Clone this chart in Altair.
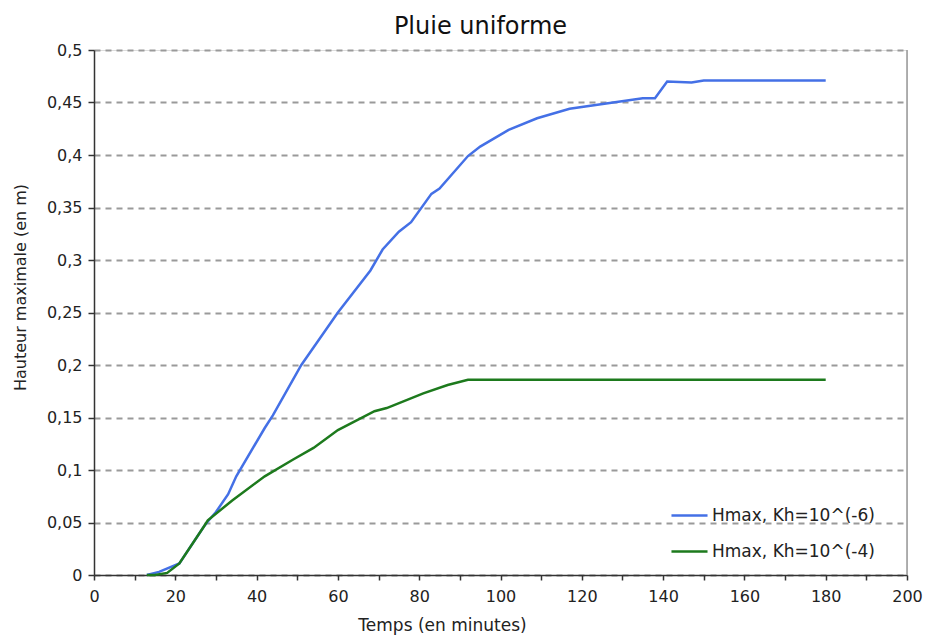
import altair as alt
import pandas as pd

blue_label = "Hmax, Kh=10^(-6)"
green_label = "Hmax, Kh=10^(-4)"

blue_t = [13, 16, 21, 27, 28, 30, 33, 35, 42, 44, 51, 60, 68, 71, 75, 78, 83, 85, 92, 95, 102, 109, 117, 126, 135, 138, 141, 147, 150, 180]
blue_h = [0, 0.003, 0.011, 0.046, 0.051, 0.06, 0.077, 0.094, 0.14, 0.152, 0.2, 0.25, 0.29, 0.31, 0.327, 0.336, 0.363, 0.368, 0.399, 0.408, 0.424, 0.435, 0.444, 0.449, 0.454, 0.454, 0.47, 0.469, 0.471, 0.471]

green_t = [13, 15, 18, 21, 27, 28, 34, 42, 49, 54, 60, 69, 72, 81, 87, 92, 180]
green_h = [0, 0, 0.002, 0.011, 0.046, 0.052, 0.071, 0.094, 0.11, 0.121, 0.138, 0.156, 0.159, 0.173, 0.181, 0.186, 0.186]

x_ticks = list(range(0, 201, 10))
y_ticks = [round(i * 0.05, 2) for i in range(11)]

rows = [{"t": t, "h": h, "serie": blue_label, "o": 0} for t, h in zip(blue_t, blue_h)]
rows += [{"t": t, "h": h, "serie": green_label, "o": 1} for t, h in zip(green_t, green_h)]
df = pd.DataFrame(rows)

FONT = "DejaVu Sans"

x = alt.X("t:Q", scale=alt.Scale(domain=[0, 200], nice=False),
          axis=alt.Axis(title="Temps (en minutes)", values=x_ticks,
                        labelExpr="datum.value % 20 == 0 ? datum.label : ''",
                        labelFlush=False,
                        grid=False, domainColor="#333", domainWidth=1.5,
                        tickColor="#333", tickWidth=1.5, tickSize=5,
                        labelFontSize=16, titleFontSize=17,
                        labelColor="#222", titleColor="#222", titleFontWeight="normal",
                        labelPadding=8, labelFont=FONT, titleFont=FONT,
                        titleX=348, titleY=55, titleAlign="center",
                        titleBaseline="alphabetic"))
y = alt.Y("h:Q", scale=alt.Scale(domain=[0, 0.5], nice=False),
          axis=alt.Axis(title="Hauteur maximale (en m)", values=y_ticks,
                        labelExpr="replace(format(datum.value, '.2~f'), '.', ',')",
                        labelFlush=False,
                        grid=True, gridDash=[6, 5], gridColor="#9a9a9a", gridWidth=2,
                        domainColor="#333", domainWidth=1.5, tickColor="#333",
                        tickWidth=1.5, tickSize=6,
                        labelFontSize=16, titleFontSize=16, labelColor="#222",
                        titleColor="#222", titleFontWeight="normal",
                        labelPadding=6, labelFont=FONT, titleFont=FONT,
                        titleX=-74, titleY=237, titleAlign="center",
                        titleBaseline="middle"))

lines = alt.Chart(df).mark_line(strokeWidth=2.5).encode(
    x=x, y=y,
    color=alt.Color("serie:N",
                    scale=alt.Scale(domain=[blue_label, green_label], range=["#4470e6", "#1d7a1d"]),
                    legend=alt.Legend(title=None, orient="none", legendX=576, legendY=446,
                                      symbolType="stroke", symbolSize=1300, symbolStrokeWidth=2.5,
                                      labelFontSize=17, labelFont=FONT, labelColor="#222",
                                      labelLimit=400, rowPadding=8, labelOffset=3)),
    order="o:Q",
    detail="serie:N",
)

border = alt.Chart(pd.DataFrame({"t": [200]})).mark_rule(color="#999", strokeWidth=1.5).encode(
    x=alt.X("t:Q", scale=alt.Scale(domain=[0, 200], nice=False))
)

chart = alt.layer(border, lines).properties(
    width=813, height=525,
    title=alt.TitleParams("Pluie uniforme", fontSize=24, font=FONT, fontWeight="normal",
                          color="#111", offset=3, dx=-20),
    autosize=alt.AutoSizeParams(type="none"),
    padding={"left": 86, "top": 42, "right": 16, "bottom": 60},
).configure_view(stroke=None).configure(background="white")

chart.save("out.html", embed_options={"renderer": "svg", "actions": False})
